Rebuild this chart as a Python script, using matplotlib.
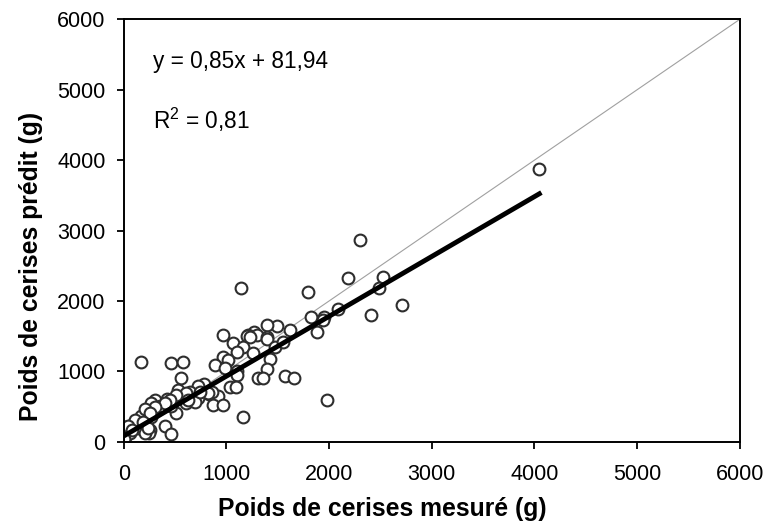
import matplotlib
matplotlib.use("Agg")
import matplotlib.pyplot as plt
import numpy as np

plt.rcParams['font.family'] = ['Liberation Sans', 'DejaVu Sans']
plt.rcParams['mathtext.fontset'] = 'custom'
plt.rcParams['mathtext.rm'] = 'Liberation Sans'
plt.rcParams['mathtext.it'] = 'Liberation Sans:italic'

measured = [4047, 2300, 2180, 2527, 2485, 1796, 2706, 2082, 2404, 1819, 1949, 1936, 1878, 1975,
            1147, 1618, 1494, 1391, 1265, 1212, 1300, 1391, 965, 1066, 1196, 1228, 1391, 1163,
            1099, 1261, 1472, 1553, 1423, 1391, 1309, 1358, 1569, 1657, 968, 1017, 887, 985,
            1099, 1099, 1033, 1092, 173, 462, 579, 556, 1163, 785, 722, 644, 527, 832, 919,
            865, 968, 725, 611, 514, 303, 417, 459, 352, 222, 173, 286, 400, 462, 254, 244,
            270, 27, 92, 10, 20, 189, 140, 59, 205, 855, 611, 514, 449, 400, 270, 303, 205,
            254, 108, 189, 238, 43, 76, 5, 692, 627, 822, 741]
predicted = [3874, 2862, 2330, 2335, 2188, 2122, 1946, 1889, 1800, 1771, 1776, 1729, 1563, 588,
             2188, 1592, 1648, 1658, 1563, 1516, 1516, 1491, 1510, 1410, 1501, 1491, 1455, 1350,
             1279, 1264, 1350, 1420, 1175, 1028, 909, 909, 933, 909, 1207, 1160, 1089, 1042,
             1004, 947, 772, 772, 1140, 1115, 1140, 912, 355, 825, 786, 710, 739, 678, 649,
             521, 521, 616, 554, 403, 592, 602, 507, 507, 450, 372, 460, 225, 115, 166, 119,
             355, 213, 251, 71, 95, 261, 190, 128, 119, 710, 687, 663, 592, 554, 545, 497, 460,
             403, 308, 284, 190, 223, 166, 40, 568, 592, 687, 710]

slope = 0.85
intercept = 81.94

fig = plt.figure(figsize=(7.78, 5.21), dpi=100)
ax = fig.add_axes([0.159, 0.152, 0.792, 0.811])

ax.plot([0, 6000], [0, 6000], color='#a0a0a0', lw=0.8, zorder=1)
ax.scatter(measured, predicted, s=72, facecolors='white', edgecolors='#2e2e2e',
           linewidths=1.5, zorder=2)
xf = np.array([min(measured), max(measured)])
ax.plot(xf, slope * xf + intercept, color='black', lw=3.5, zorder=3)

ax.set_xlim(0, 6000)
ax.set_ylim(0, 6000)
ax.set_xticks(range(0, 6001, 1000))
ax.set_yticks(range(0, 6001, 1000))
ax.tick_params(direction='out', length=5, width=1.3, labelsize=15.5, top=False, right=False)
ax.tick_params(axis='x', pad=11)
ax.tick_params(axis='y', pad=8)
for s in ax.spines.values():
    s.set_linewidth(1.4)

fig.text(0.491, 0.023, 'Poids de cerises mesuré (g)', fontsize=17.8, fontweight='bold',
         ha='center', va='center')
fig.text(0.040, 0.489, 'Poids de cerises prédit (g)', fontsize=17.8, fontweight='bold',
         ha='center', va='center', rotation=90)

ax.text(283, 5304, 'y = 0,85x + 81,94', fontsize=16.3, va='baseline', ha='left')
ax.text(283, 4437, 'R$^2$ = 0,81', fontsize=16.3, va='baseline', ha='left')

fig.savefig('out.png', dpi=100)
